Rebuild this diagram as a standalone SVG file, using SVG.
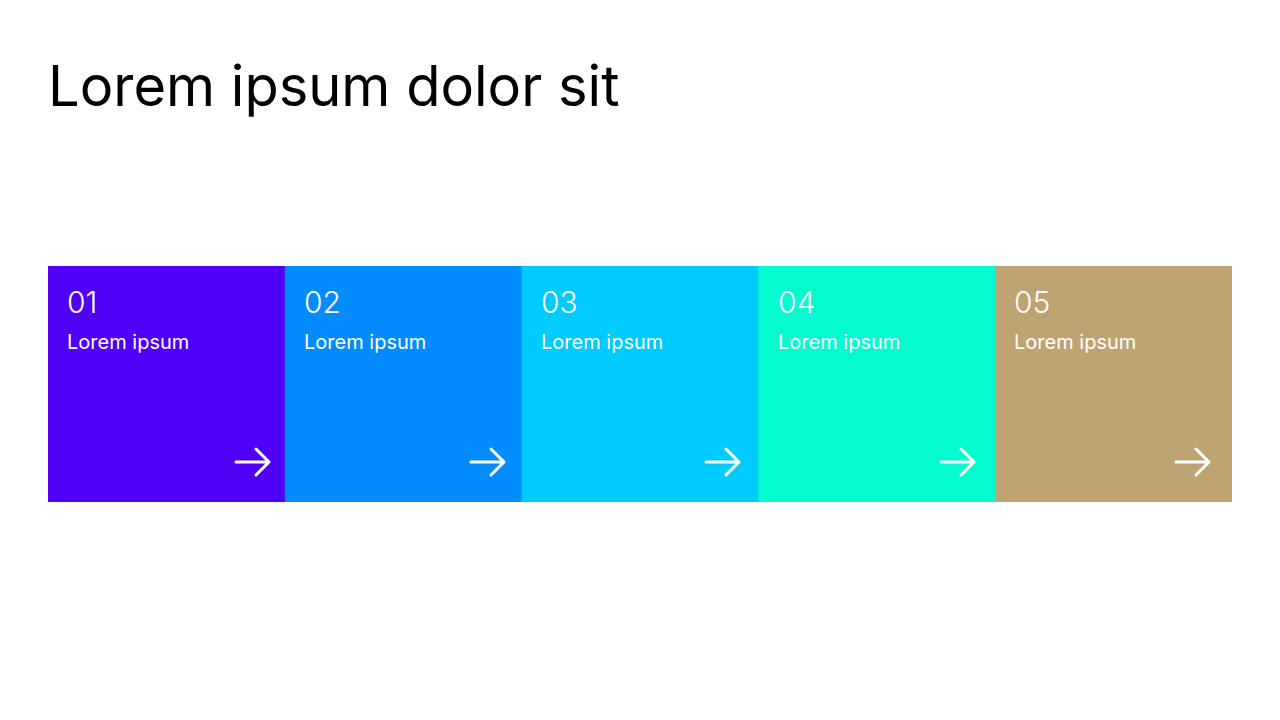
<svg xmlns="http://www.w3.org/2000/svg" width="1280" height="720" viewBox="0 0 1280 720">
<style>
.num{font-family:Inter,"Noto Sans",sans-serif;font-size:30px;font-weight:300;fill:#fff}
.lbl{font-family:Inter,"Noto Sans",sans-serif;font-size:20px;fill:#fff}
.title{font-family:Inter,"Noto Sans",sans-serif;font-size:56px;fill:#000}
.arr{fill:none;stroke:#fff;stroke-width:3;stroke-linecap:round;stroke-linejoin:round}
</style>
<defs>
<g id="arrow"><path class="arr" d="M0 0H33M20 -13L33 0L20 13"/></g>
</defs>
<rect width="1280" height="720" fill="#fff"/>
<text class="title" x="48" y="106">Lorem ipsum dolor sit</text>
<g id="node1">
<rect x="48" y="266" width="237.8" height="236" fill="#4F00F5"/>
<text class="num" x="67" y="313">01</text>
<text class="lbl" x="67" y="349">Lorem ipsum</text>
</g>
<g id="node2">
<rect x="284.8" y="266" width="237.8" height="236" fill="#038CFF"/>
<text class="num" x="304" y="313">02</text>
<text class="lbl" x="304" y="349">Lorem ipsum</text>
</g>
<g id="node3">
<rect x="521.6" y="266" width="237.8" height="236" fill="#00CBFF"/>
<text class="num" x="541" y="313">03</text>
<text class="lbl" x="541" y="349">Lorem ipsum</text>
</g>
<g id="node4">
<rect x="758.4" y="266" width="237.8" height="236" fill="#04FBCF"/>
<text class="num" x="778" y="313">04</text>
<text class="lbl" x="778" y="349">Lorem ipsum</text>
</g>
<g id="node5">
<rect x="995.2" y="266" width="236.8" height="236" fill="#BEA373"/>
<text class="num" x="1014" y="313">05</text>
<text class="lbl" x="1014" y="349">Lorem ipsum</text>
</g>
<g id="connectors">
<use href="#arrow" x="236" y="462"/>
<use href="#arrow" x="471" y="462"/>
<use href="#arrow" x="706" y="462"/>
<use href="#arrow" x="941" y="462"/>
<use href="#arrow" x="1176" y="462"/>
</g>
</svg>
